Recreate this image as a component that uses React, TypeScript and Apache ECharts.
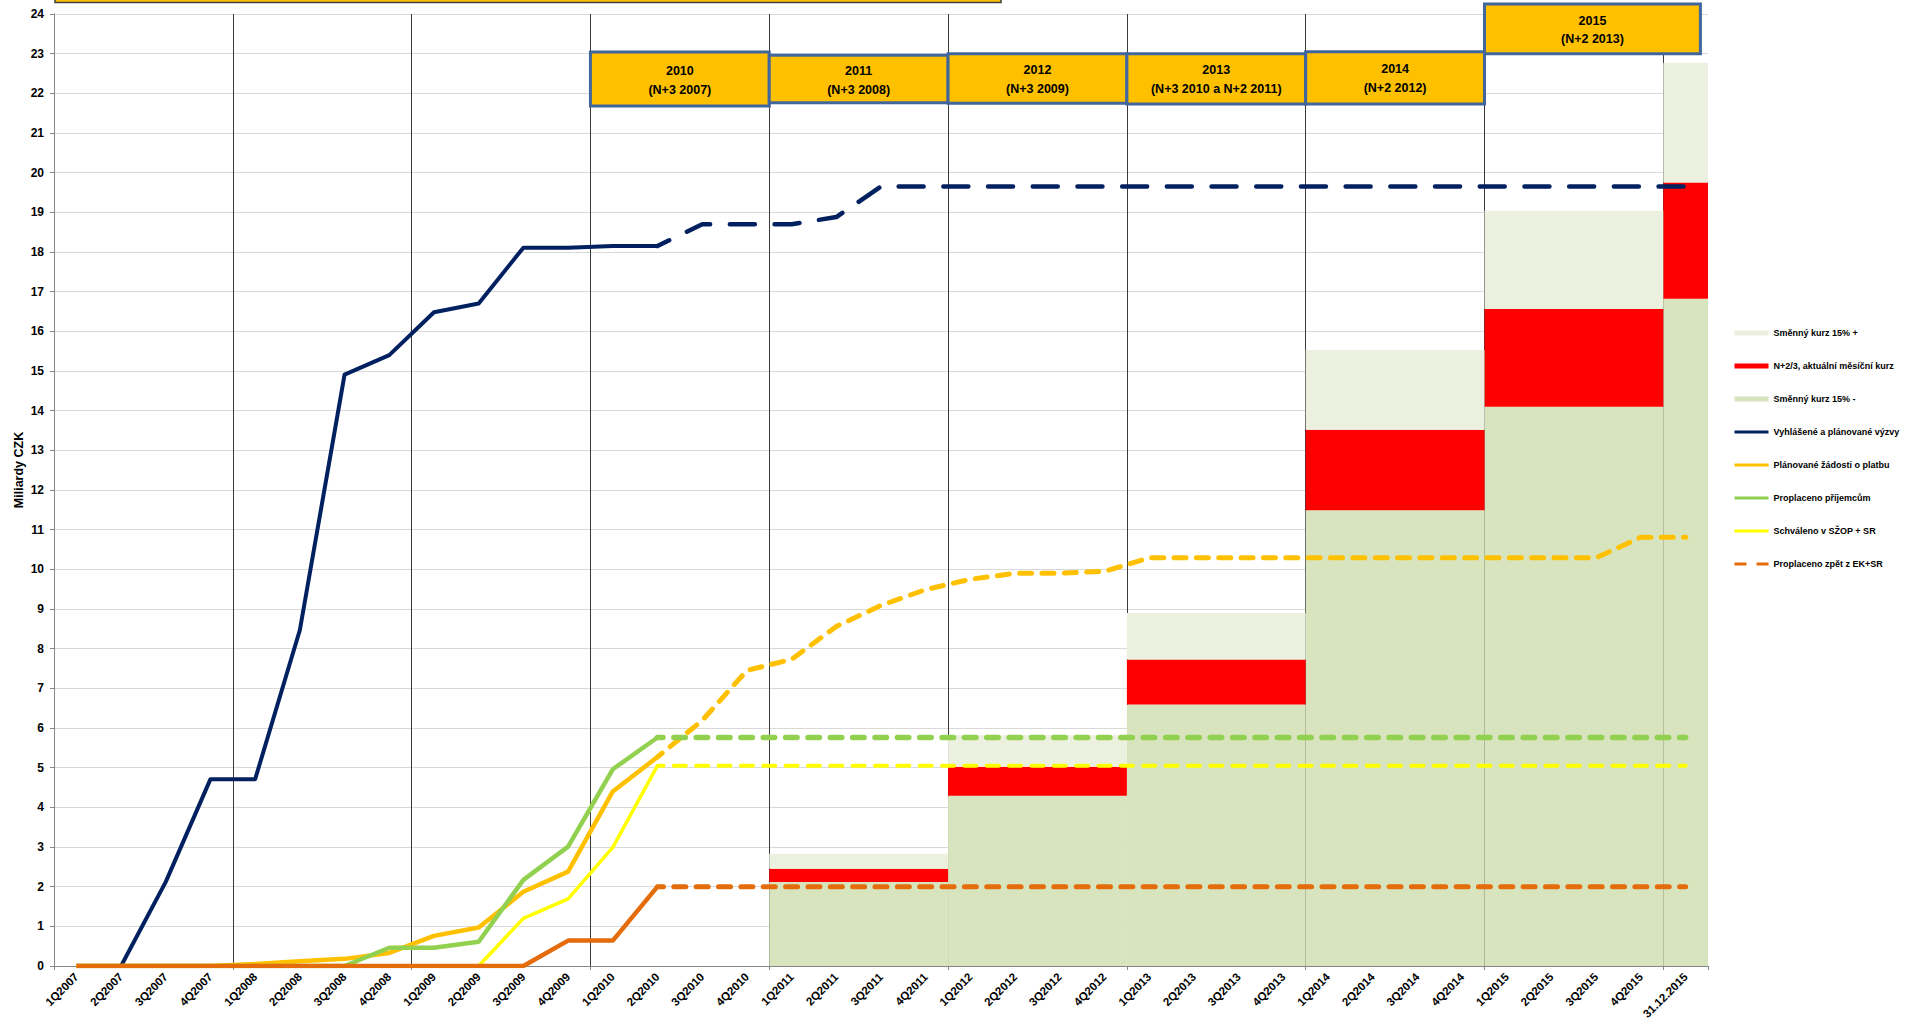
import React, { useEffect, useRef } from 'react';
import * as echarts from 'echarts';

const categories = [
  '1Q2007', '2Q2007', '3Q2007', '4Q2007',
  '1Q2008', '2Q2008', '3Q2008', '4Q2008',
  '1Q2009', '2Q2009', '3Q2009', '4Q2009',
  '1Q2010', '2Q2010', '3Q2010', '4Q2010',
  '1Q2011', '2Q2011', '3Q2011', '4Q2011',
  '1Q2012', '2Q2012', '3Q2012', '4Q2012',
  '1Q2013', '2Q2013', '3Q2013', '4Q2013',
  '1Q2014', '2Q2014', '3Q2014', '4Q2014',
  '1Q2015', '2Q2015', '3Q2015', '4Q2015',
  '31.12.2015',
];

const yTicks = [0, 24, 1]; // min, max, interval

// Yearly allocation blocks: first and last quarter of each block, and the band values
const blockStart = ['1Q2011', '1Q2012', '1Q2013', '1Q2014', '1Q2015', '31.12.2015'];
const blockEnd = ['4Q2011', '4Q2012', '4Q2013', '4Q2014', '4Q2015', '31.12.2015'];
const blockLower = [2.12, 4.29, 6.59, 11.49, 14.1, 16.82]; // Směnný kurz 15% -
const blockMid = [0.33, 0.73, 1.14, 2.03, 2.46, 2.93]; // N+2/3, aktuální měsíční kurz
const blockUpper = [0.38, 0.8, 1.17, 2.01, 2.48, 3.02]; // Směnný kurz 15% +

// Line series (values per category)
const vyzvy = [0, 0, 2.12, 4.71, 4.71, 8.47, 14.91, 15.4, 16.48, 16.7, 18.11, 18.11, 18.15, 18.15,
  18.7, 18.7, 18.7, 18.88, 19.65, 19.65, 19.65, 19.65, 19.65, 19.65, 19.65, 19.65, 19.65, 19.65,
  19.65, 19.65, 19.65, 19.65, 19.65, 19.65, 19.65, 19.65, 19.65];
const zadosti = [0, 0, 0, 0, 0.05, 0.12, 0.18, 0.33, 0.76, 0.97, 1.87, 2.38, 4.4, 5.27,
  6.19, 7.45, 7.73, 8.56, 9.09, 9.49, 9.75, 9.9, 9.9, 9.95, 10.29, 10.29, 10.29, 10.29,
  10.29, 10.29, 10.29, 10.29, 10.29, 10.29, 10.29, 10.81, 10.81];
const prijemcum = [0, 0, 0, 0, 0, 0, 0, 0.46, 0.46, 0.61, 2.17, 3.01, 4.96, 5.76,
  5.76, 5.76, 5.76, 5.76, 5.76, 5.76, 5.76, 5.76, 5.76, 5.76, 5.76, 5.76, 5.76, 5.76,
  5.76, 5.76, 5.76, 5.76, 5.76, 5.76, 5.76, 5.76, 5.76];
const schvaleno = [0, 0, 0, 0, 0, 0, 0, 0, 0, 0, 1.2, 1.69, 2.99, 5.05,
  5.05, 5.05, 5.05, 5.05, 5.05, 5.05, 5.05, 5.05, 5.05, 5.05, 5.05, 5.05, 5.05, 5.05,
  5.05, 5.05, 5.05, 5.05, 5.05, 5.05, 5.05, 5.05, 5.05];
const zpet = [0, 0, 0, 0, 0, 0, 0, 0, 0, 0, 0, 0.64, 0.64, 2.0,
  2.0, 2.0, 2.0, 2.0, 2.0, 2.0, 2.0, 2.0, 2.0, 2.0, 2.0, 2.0, 2.0, 2.0,
  2.0, 2.0, 2.0, 2.0, 2.0, 2.0, 2.0, 2.0, 2.0];

const lastActualIndex = 13; // 2Q2010: solid up to here, plan (dashed) from here

const boxTitles = ['2010', '2011', '2012', '2013', '2014', '2015'];
const boxNotes = ['(N+3 2007)', '(N+3 2008)', '(N+3 2009)', '(N+3 2010 a N+2 2011)', '(N+2 2012)', '(N+2 2013)'];

const FONT = "'Liberation Sans', Arial, sans-serif";

const solid = (arr: number[]) => arr.map((v, i) => (i <= lastActualIndex ? v : null));
const dashed = (arr: number[]) => arr.map((v, i) => (i >= lastActualIndex ? v : null));

// stacked band rows: [startCategory, endCategory, bottom, top]
const bandRows = (layer: number) => blockStart.map((s, k) => {
  const parts = [blockLower[k], blockMid[k], blockUpper[k]];
  let bottom = 0;
  for (let j = 0; j < layer; j++) bottom += parts[j];
  return [s, blockEnd[k], bottom, bottom + parts[layer]];
});

const N_LOWER = 'Směnný kurz 15% -';
const N_MID = 'N+2/3, aktuální měsíční kurz';
const N_UPPER = 'Směnný kurz 15% +';
const N_VYZVY = 'Vyhlášené a plánované výzvy';
const N_ZADOSTI = 'Plánované žádosti o platbu';
const N_PRIJ = 'Proplaceno příjemcům';
const N_SCHV = 'Schváleno v SŽOP + SR';
const N_ZPET = 'Proplaceno zpět z EK+SR';

function lineSeries(name: string, data: (number | null)[], color: string, width: number, dash?: number[], offset = 0) {
  return {
    name,
    type: 'line',
    data,
    symbol: 'none',
    showSymbol: false,
    connectNulls: false,
    z: 3,
    itemStyle: { color },
    lineStyle: dash
      ? { color, width, type: dash, dashOffset: offset, cap: 'round', join: 'round' }
      : { color, width, type: 'solid', cap: 'butt', join: 'round' },
  };
}

function bandSeries(name: string, layer: number, color: string) {
  return {
    name,
    type: 'custom',
    z: 1,
    itemStyle: { color },
    encode: { x: [0, 1], y: [2, 3] },
    data: bandRows(layer),
    renderItem: (params: any, api: any) => {
      const pTop = api.coord([api.value(0), api.value(3)]);
      const pBot = api.coord([api.value(1), api.value(2)]);
      const bw = api.size([1, 0])[0];
      return {
        type: 'rect',
        shape: { x: pTop[0] - bw / 2, y: pTop[1], width: pBot[0] - pTop[0] + bw, height: pBot[1] - pTop[1] },
        style: { fill: color },
      };
    },
  };
}

export default function App() {
  const ref = useRef<HTMLDivElement>(null);
  useEffect(() => {
    document.body.style.margin = '0';
    document.body.style.overflow = 'hidden';
    const chart = echarts.init(ref.current!, null, { renderer: 'svg' });
    const lineLegend = (name: string, extra: any = {}) => ({
      name,
      itemStyle: { opacity: 0 },
      lineStyle: { width: 3, ...extra },
    });
    // vertical year separators: visible lines, the closing boundary hidden
    const sepColors = categories.filter((_, i) => i % 4 === 0).map(() => '#3a3a3a').concat(['rgba(0,0,0,0)']);
    const option: any = {
      animation: false,
      backgroundColor: '#ffffff',
      grid: { left: 54, right: 209, top: 14, bottom: 63, containLabel: false },
      legend: {
        orient: 'vertical',
        left: 1728,
        top: 322,
        itemWidth: 34,
        itemHeight: 5,
        itemGap: 21,
        selectedMode: false,
        textStyle: { fontFamily: FONT, fontSize: 9, fontWeight: 'bold', color: '#000', lineHeight: 12 },
        data: [
          { name: N_UPPER, icon: 'rect' },
          { name: N_MID, icon: 'rect' },
          { name: N_LOWER, icon: 'rect' },
          lineLegend(N_VYZVY),
          lineLegend(N_ZADOSTI),
          lineLegend(N_PRIJ),
          lineLegend(N_SCHV),
          lineLegend(N_ZPET, { type: [12, 10], dashOffset: 0, cap: 'butt' }),
        ],
      },
      xAxis: {
        type: 'category',
        data: categories,
        boundaryGap: true,
        axisLine: { show: true, lineStyle: { color: '#868686', width: 1 } },
        axisTick: { show: true, interval: 3, length: 4, lineStyle: { color: '#868686' } },
        axisLabel: {
          interval: 0,
          rotate: 45,
          margin: 9,
          fontFamily: FONT,
          fontSize: 11.5,
          fontWeight: 'bold',
          color: '#000',
        },
        splitLine: { show: true, interval: 3, lineStyle: { color: sepColors, width: 1 } },
      },
      yAxis: {
        type: 'value',
        min: yTicks[0],
        max: yTicks[1],
        interval: yTicks[2],
        axisLine: { show: true, lineStyle: { color: '#868686', width: 1 } },
        axisTick: { show: true, length: 4, lineStyle: { color: '#868686' } },
        axisLabel: { margin: 10, fontFamily: FONT, fontSize: 12, fontWeight: 'bold', color: '#000' },
        splitLine: { show: true, lineStyle: { color: '#D9D9D9', width: 1 } },
      },
      series: [
        bandSeries(N_LOWER, 0, '#D7E4BD'),
        bandSeries(N_MID, 1, '#FF0000'),
        bandSeries(N_UPPER, 2, '#EBF1DE'),
        lineSeries(N_VYZVY, solid(vyzvy), '#002060', 4),
        lineSeries(N_VYZVY, dashed(vyzvy), '#002060', 4.5, [25, 19.7], 12),
        lineSeries(N_ZADOSTI, solid(zadosti), '#FFC000', 4.5),
        lineSeries(N_ZADOSTI, dashed(zadosti), '#FFC000', 5, [12, 10.35], 6),
        lineSeries(N_PRIJ, solid(prijemcum), '#92D050', 4.5),
        lineSeries(N_PRIJ, dashed(prijemcum), '#92D050', 5.5, [11.5, 10.85], 6),
        lineSeries(N_SCHV, solid(schvaleno), '#FFFF00', 3.5),
        lineSeries(N_SCHV, dashed(schvaleno), '#FFFF00', 4, [12, 10.35], 6),
        lineSeries(N_ZPET, dashed(zpet), '#E46C0A', 5, [12, 10.35], 6),
        lineSeries(N_ZPET, solid(zpet), '#E46C0A', 4.5),
      ],
    };
    chart.setOption(option);

    const xc = (i: number) => chart.convertToPixel({ xAxisIndex: 0 }, categories[i]) as number;
    const band = xc(1) - xc(0);
    const edge = (k: number) => xc(0) - band / 2 + k * band;
    const yv = (v: number) => chart.convertToPixel({ yAxisIndex: 0 }, v) as number;

    const boxGeom = [
      { s: 12, e: 16, t: 23.04, b: 21.68 },
      { s: 16, e: 20, t: 22.96, b: 21.76 },
      { s: 20, e: 24, t: 23.0, b: 21.75 },
      { s: 24, e: 28, t: 23.0, b: 21.73 },
      { s: 28, e: 32, t: 23.05, b: 21.73 },
      { s: 32, e: 36.83, t: 24.25, b: 23.0 },
    ];
    const graphics: any[] = [];
    graphics.push({
      type: 'rect',
      z: 100,
      shape: { x: 55, y: -20, width: 946, height: 22.5 },
      style: { fill: '#FFC000', stroke: '#404040', lineWidth: 1.5 },
    });
    boxGeom.forEach((g, i) => {
      const x0 = edge(g.s);
      const x1 = edge(g.e);
      const y0 = yv(g.t);
      const y1 = yv(g.b);
      graphics.push({
        type: 'rect',
        z: 100,
        shape: { x: x0, y: y0, width: x1 - x0, height: y1 - y0 },
        style: { fill: '#FFC000', stroke: '#41669B', lineWidth: 3 },
      });
      graphics.push({
        type: 'text',
        z: 101,
        x: (x0 + x1) / 2,
        y: (y0 + y1) / 2 + 1,
        style: {
          text: boxTitles[i] + '\n' + boxNotes[i],
          fill: '#000',
          fontFamily: FONT,
          fontSize: 12.5,
          fontWeight: 'bold',
          lineHeight: i === 5 ? 18 : 19,
          align: 'center',
          verticalAlign: 'middle',
        },
      });
    });
    graphics.push({
      type: 'text',
      z: 101,
      x: 19,
      y: 470,
      rotation: Math.PI / 2,
      style: {
        text: 'Miliardy CZK',
        fill: '#000',
        fontFamily: FONT,
        fontSize: 12.5,
        fontWeight: 'bold',
        align: 'center',
        verticalAlign: 'middle',
      },
    });
    chart.setOption({ graphic: graphics });

    return () => chart.dispose();
  }, []);
  return <div ref={ref} style={{ width: 1917, height: 1029 }} />;
}
